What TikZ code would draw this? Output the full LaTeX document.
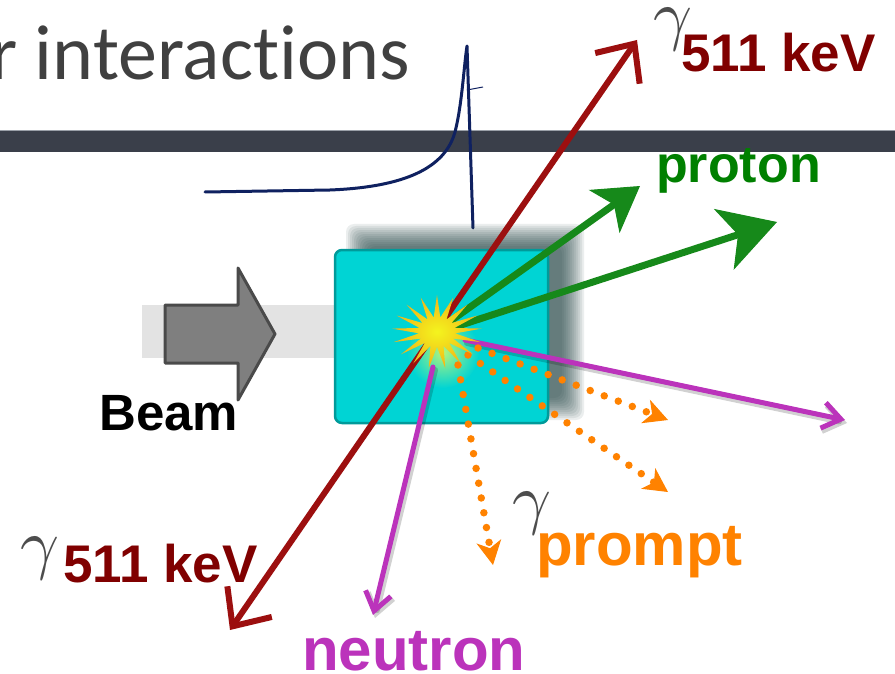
\documentclass[tikz,border=0pt]{standalone}
\usepackage{fontspec}
\usepackage{graphicx}
\setmainfont{Liberation Sans}
\newfontfamily\titlefont[Ligatures=NoCommon]{Carlito}
\usetikzlibrary{arrows.meta,shapes.geometric}

\definecolor{titlegrey}{HTML}{404040}
\definecolor{barslate}{HTML}{3A3F4A}
\definecolor{barrim}{HTML}{9AA0A8}
\definecolor{curvenavy}{HTML}{0F2160}
\definecolor{bandgrey}{HTML}{E3E3E3}
\definecolor{beamfill}{HTML}{7F7F7F}
\definecolor{beamedge}{HTML}{4A4A4A}
\definecolor{boxfill}{HTML}{00D4D4}
\definecolor{boxedge}{HTML}{009A9A}
\definecolor{shadowteal}{HTML}{1E3E3E}
\definecolor{annred}{HTML}{9C0F0F}
\definecolor{labelred}{HTML}{800000}
\definecolor{protongreen}{HTML}{16891A}
\definecolor{labelgreen}{HTML}{008000}
\definecolor{neutronmag}{HTML}{BB33BB}
\definecolor{promptorange}{HTML}{FF8200}
\definecolor{gammagrey}{HTML}{4D4D4D}
\definecolor{flashcore}{HTML}{F4F41E}
\definecolor{flashrim}{HTML}{F0B418}
\definecolor{glowgreen}{HTML}{B4F47C}

\begin{document}
\begin{tikzpicture}[x=1pt,y=-1pt,
  tag/.style={inner sep=0pt, anchor=base west, font=\bfseries\fontsize{#1}{#1}\selectfont},
  gammasym/.style={inner sep=0pt, text=gammagrey},
  annline/.style={draw=annred, line width=6pt, line cap=round, line join=round,
    {Straight Barb[length=30pt,width=54pt]}-{Straight Barb[length=30pt,width=54pt]}},
  protonline/.style={draw=protongreen, line width=7pt, line cap=round},
  neutronline/.style={draw=neutronmag, line width=5pt, line cap=round, line join=round,
    -{Straight Barb[length=18pt,width=26pt]}},
  neutronshade/.style={draw=black, opacity=0.18, line width=6pt, line cap=round,
    -{Straight Barb[length=18pt,width=26pt]}},
  dotarrow/.style={draw=promptorange, line width=7.5pt, line cap=round,
    dash pattern=on 0pt off 15pt,
    -{Stealth[length=24pt,width=25pt,inset=7pt,line width=1pt]}}]

% page frame
\useasboundingbox (0,0) rectangle (895,674);
\clip (0,0) rectangle (895,674);
\fill[white] (0,0) rectangle (895,674);

% slide title and header bar
\node[anchor=base east, inner sep=0pt, text=titlegrey,
      font=\titlefont\fontsize{78}{78}\selectfont] (title) at (410,80) {r interactions};
\fill[barslate] (0,131) rectangle (895,152);
\draw[barrim, line width=1pt] (0,131) -- (895,131);

% Bragg-peak sketch
\draw[curvenavy, line width=3pt, line join=round, line cap=round]
  (205,192) -- (330,190) .. controls (405,187) and (445,168) .. (455,132)
  .. controls (462,105) and (464,65) .. (467,46) -- (473,228);
\draw[curvenavy, line width=1pt] (467,90) -- (483,87);

% incoming beam
\fill[bandgrey] (142,305) rectangle (336,358);
\draw[beamedge, fill=beamfill, line width=3pt, line join=round]
  (165,305) -- (238,305) -- (238,268) -- (275,334) -- (238,400) -- (238,363) -- (165,363) -- cycle;
\node[tag=51] (beam) at (99,430) {Beam};

% soft shadow behind the target
\foreach \k in {0,...,11}
  \fill[shadowteal, opacity=0.085, rounded corners=8pt]
    ({346+2*\k},{224+2*\k}) rectangle ({584-2*\k},{420-2*\k});

% target block
\node[draw=boxedge, fill=boxfill, line width=2.5pt, rounded corners=7pt,
      minimum width=213pt, minimum height=173pt, inner sep=0pt] (target) at (441.5,336.5) {};
\shade[inner color=glowgreen, outer color=boxfill] (443,352) circle (36pt);

% end points of the emitted particles
\coordinate (annlow) at (230,630);
\coordinate (annup) at (637,40);
\coordinate (p1s) at (452,320);
\coordinate (p1e) at (640,186);
\coordinate (p2s) at (458,326);
\coordinate (p2e) at (777,222);
\coordinate (n1s) at (465,340);
\coordinate (n1e) at (845,420);
\coordinate (n2s) at (433,367);
\coordinate (n2e) at (373,615);
\coordinate (g1s) at (478,348);
\coordinate (g1e) at (668,420);
\coordinate (g2s) at (468,355);
\coordinate (g2e) at (668,492);
\coordinate (g3s) at (458,365);
\coordinate (g3e) at (493,565);

% annihilation photons
\draw[annline] (annlow) -- (annup);

% protons
\draw[protonline, -{Stealth[length=44pt,width=53pt,inset=12pt,line width=1pt]}] (p1s) -- (p1e);
\draw[protonline, -{Stealth[length=56pt,width=64pt,inset=15pt,line width=1pt]}] (p2s) -- (p2e);

% neutrons
\begin{scope}[transform canvas={shift={(2pt,-3pt)}}]
  \draw[neutronshade] (n1s) -- (n1e);
  \draw[neutronshade] (n2s) -- (n2e);
\end{scope}
\draw[neutronline] (n1s) -- (n1e);
\draw[neutronline] (n2s) -- (n2e);

% prompt gammas
\draw[dotarrow] (g1s) -- (g1e);
\draw[dotarrow] (g2s) -- (g2e);
\draw[dotarrow] (g3s) -- (g3e);

% interaction flash
\begin{scope}[shift={(437,332)}]
  \node[star, star points=17, star point ratio=2.5, minimum size=74pt, inner sep=0pt,
        xscale=1.22, transform shape, shading=radial,
        inner color=flashcore, outer color=flashrim] (flash) at (0,0) {};
\end{scope}

% labels
\node[gammasym] (gammaup) at (673,29) {\scalebox{6.8}{$\gamma$}};
\node[tag=53, text=labelred] (kevup) at (681,72) {511 keV};
\node[tag=52, text=labelgreen] (proton) at (656,183) {proton};
\node[gammasym] (gammalow) at (40,558) {\scalebox{6.8}{$\gamma$}};
\node[tag=53, text=labelred] (kevlow) at (63,582) {511 keV};
\node[gammasym] (gammaprompt) at (532,513) {\scalebox{6.8}{$\gamma$}};
\node[tag=60, text=promptorange] (prompt) at (536,565) {prompt};
\node[tag=60, text=neutronmag] (neutron) at (302,670) {neutron};
\end{tikzpicture}
\end{document}
